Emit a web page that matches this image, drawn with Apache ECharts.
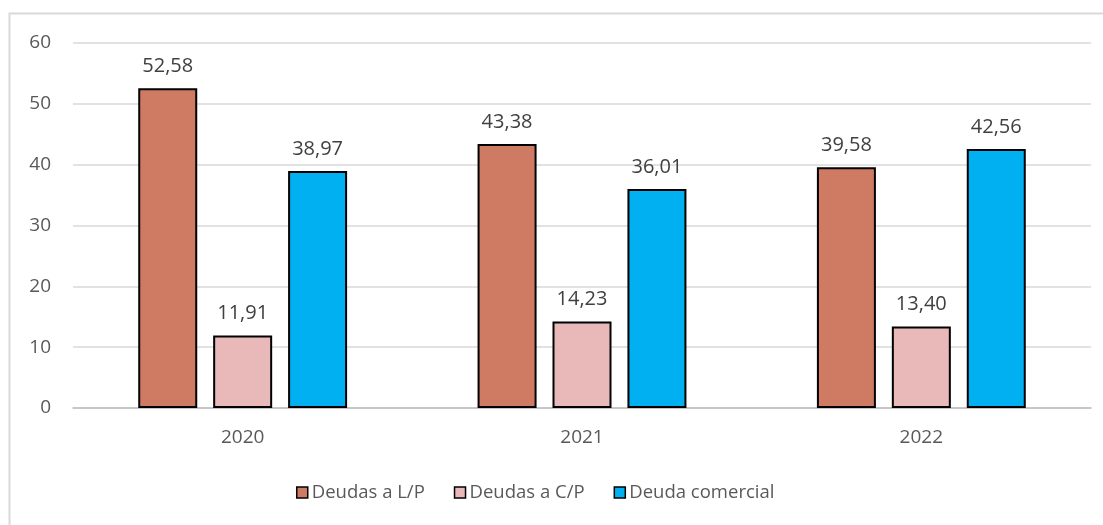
<!DOCTYPE html>
<html>
<head>
<meta charset="utf-8">
<script src="https://cdn.jsdelivr.net/npm/echarts@6/dist/echarts.min.js"></script>
<style>
html,body{margin:0;padding:0;background:#fff;}
#chart{width:1103px;height:525px;}
</style>
</head>
<body>
<div id="chart"></div>
<script>
const categories = ['2020', '2021', '2022'];
const seriesNames = ['Deudas a L/P', 'Deudas a C/P', 'Deuda comercial'];
const deudasLP = [52.58, 43.38, 39.58];
const deudasCP = [11.91, 14.23, 13.40];
const deudaComercial = [38.97, 36.01, 42.56];
const yTicks = [0, 10, 20, 30, 40, 50, 60];
const colors = ['#CF7B63', '#E8B9B8', '#00B0F0'];

const font = '"Open Sans", "Noto Sans", sans-serif';
const chart = echarts.init(document.getElementById('chart'), null, {renderer: 'canvas'});

function mkSeries(name, data, color) {
  return {
    name: name,
    type: 'bar',
    data: data,
    barWidth: 59,
    barGap: '27%',
    itemStyle: {color: color, borderColor: '#000', borderWidth: 2},
    label: {
      show: true,
      position: 'top',
      distance: 12,
      color: '#404040',
      fontSize: 20,
      fontFamily: font,
      formatter: p => p.value.toFixed(2).replace('.', ',')
    }
  };
}

chart.setOption({
  animation: false,
  backgroundColor: '#fff',
  graphic: [{
    type: 'rect',
    shape: {x: 9.5, y: 13.5, width: 1200, height: 600},
    style: {fill: 'none', stroke: '#D9D9D9', lineWidth: 2},
    silent: true
  }],
  grid: {left: 73, right: 12, top: 43, bottom: 117, containLabel: false},
  legend: {
    top: 483,
    left: 296,
    padding: 0,
    itemWidth: 11,
    itemHeight: 11,
    itemGap: 29,
    icon: 'rect',
    textStyle: {color: '#595959', fontSize: 18.5, fontFamily: font, padding: [0, 0, 0, -1]},
    data: seriesNames.map((n, i) => ({name: n, itemStyle: {color: colors[i], borderColor: '#000', borderWidth: 1.5}}))
  },
  xAxis: {
    type: 'category',
    data: categories,
    axisLine: {show: true, lineStyle: {color: '#BFBFBF', width: 1.5}},
    axisTick: {show: false},
    axisLabel: {color: '#595959', fontSize: 19, fontFamily: font, margin: 20}
  },
  yAxis: {
    type: 'value',
    min: yTicks[0],
    max: yTicks[yTicks.length - 1],
    interval: 10,
    axisLine: {show: false},
    axisTick: {show: false},
    axisLabel: {color: '#595959', fontSize: 19, fontFamily: font, margin: 22},
    splitLine: {lineStyle: {color: '#D9D9D9', width: 1.5}}
  },
  series: [
    mkSeries(seriesNames[0], deudasLP, colors[0]),
    mkSeries(seriesNames[1], deudasCP, colors[1]),
    mkSeries(seriesNames[2], deudaComercial, colors[2])
  ]
});
</script>
</body>
</html>
